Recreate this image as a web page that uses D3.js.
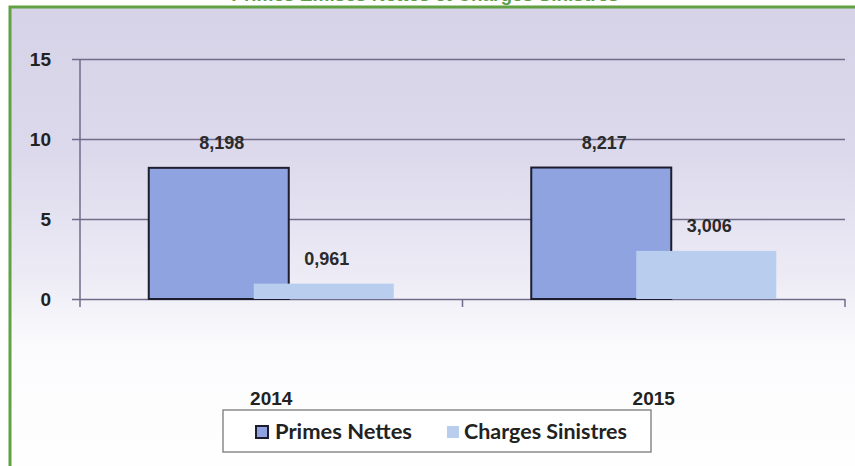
<!DOCTYPE html>
<html><head><meta charset="utf-8">
<script src="https://cdn.jsdelivr.net/npm/d3@7/dist/d3.min.js"></script>
<style>html,body{margin:0;padding:0;background:#fff;}svg{display:block;}</style>
</head><body>
<script>
const categories = ["2014", "2015"];
const seriesNames = ["Primes Nettes", "Charges Sinistres"];
const primesNettes = [8.198, 8.217];
const chargesSinistres = [0.961, 3.006];
const valueLabels = [["8,198", "8,217"], ["0,961", "3,006"]];
const yTicks = [0, 5, 10, 15];
const titleText = "Primes Emises Nettes et Charges Sinistres";

const W = 855, H = 466;
const svg = d3.select("body").append("svg").attr("width", W).attr("height", H);
const defs = svg.append("defs");
const grad = defs.append("linearGradient").attr("id", "bg").attr("x1", 0).attr("y1", 0).attr("x2", 0).attr("y2", 1);
grad.append("stop").attr("offset", "0%").attr("stop-color", "#d6d3e8");
grad.append("stop").attr("offset", "30%").attr("stop-color", "#dcd9ec");
grad.append("stop").attr("offset", "55%").attr("stop-color", "#ecebf5");
grad.append("stop").attr("offset", "70%").attr("stop-color", "#fbfbfd");
grad.append("stop").attr("offset", "100%").attr("stop-color", "#ffffff");

// frame
svg.append("rect").attr("x", 10).attr("y", 7).attr("width", W + 20).attr("height", H + 20)
  .attr("fill", "url(#bg)").attr("stroke", "#62a044").attr("stroke-width", 3);

// title (mostly cropped off the top, as in the reference)
svg.append("text").attr("x", 425).attr("y", 1).attr("text-anchor", "middle")
  .attr("font-family", "Liberation Sans, Arial, sans-serif").attr("font-weight", "bold")
  .attr("font-size", 19).attr("fill", "#5f9e48").text(titleText);

const x0 = 80, x1 = 845;
const y = d3.scaleLinear().domain([0, 15]).range([299, 59]);
const x = d3.scaleBand().domain(categories).range([x0, x1]).paddingInner(0).paddingOuter(0);
const xs = d3.scalePoint().domain(seriesNames).range([-52.5, 52.5]);
const barW = 140;
const gridColor = "#6f6b88";

// gridlines + y ticks
const yAxis = d3.axisLeft(y).tickValues(yTicks).tickSize(8).tickFormat(d3.format("d"));
const gy = svg.append("g").attr("transform", `translate(${x0},0)`).call(yAxis);
gy.select(".domain").remove();
gy.selectAll(".tick line").attr("stroke", gridColor).attr("stroke-width", 1.5);
gy.selectAll(".tick").append("line").attr("x1", 0).attr("x2", x1 - x0)
  .attr("stroke", gridColor).attr("stroke-width", 1.5);
gy.selectAll(".tick text").attr("x", -29).attr("dy", "0.36em")
  .attr("font-family", "Liberation Sans, Arial, sans-serif").attr("font-weight", "bold")
  .attr("font-size", 19).attr("fill", "#222");

// y axis line
svg.append("line").attr("x1", x0).attr("x2", x0).attr("y1", y(15)).attr("y2", y(0) + 8)
  .attr("stroke", gridColor).attr("stroke-width", 1.5);

// x axis ticks at band boundaries
const boundaries = categories.map(c => x(c)).concat([x1]);
svg.selectAll("line.xt").data(boundaries.slice(1)).enter().append("line")
  .attr("x1", d => d).attr("x2", d => d).attr("y1", y(0)).attr("y2", y(0) + 8)
  .attr("stroke", gridColor).attr("stroke-width", 1.5);

const seriesData = [primesNettes, chargesSinistres];
const fills = ["#8ea3df", "#b9cdef"];
const strokes = ["#1d1d2e", "none"];

seriesData.forEach((vals, si) => {
  const s = seriesNames[si];
  svg.selectAll(null).data(vals).enter().append("rect")
    .attr("x", (d, i) => x(categories[i]) + x.bandwidth() / 2 + xs(s) - barW / 2)
    .attr("y", d => y(d)).attr("width", barW).attr("height", d => y(0) - y(d))
    .attr("fill", fills[si]).attr("stroke", strokes[si]).attr("stroke-width", 2);
});
seriesData.forEach((vals, si) => {
  const s = seriesNames[si];
  svg.selectAll(null).data(vals).enter().append("text")
    .attr("x", (d, i) => x(categories[i]) + x.bandwidth() / 2 + xs(s) + 3)
    .attr("y", d => y(d) - 19).attr("text-anchor", "middle")
    .attr("font-family", "Liberation Sans, Arial, sans-serif").attr("font-weight", "bold")
    .attr("font-size", 18).attr("fill", "#2a2a2a")
    .text((d, i) => valueLabels[si][i]);
});

// category labels
svg.selectAll("text.cat").data(categories).enter().append("text")
  .attr("x", d => x(d) + x.bandwidth() / 2).attr("y", 405).attr("text-anchor", "middle")
  .attr("font-family", "Liberation Sans, Arial, sans-serif").attr("font-weight", "bold")
  .attr("font-size", 19).attr("fill", "#222").text(d => d);

// legend
const lg = svg.append("g");
lg.append("rect").attr("x", 223).attr("y", 410).attr("width", 428).attr("height", 42)
  .attr("fill", "#fff").attr("stroke", "#8a8a8a").attr("stroke-width", 1.5);
const legX = [256, 447];
const legTextX = [275, 464];
const legW = [137, 163];
seriesNames.forEach((s, i) => {
  lg.append("rect").attr("x", legX[i]).attr("y", 426).attr("width", 12).attr("height", 12)
    .attr("fill", fills[i]).attr("stroke", strokes[i]).attr("stroke-width", 2);
  lg.append("text").attr("x", legTextX[i]).attr("y", 439)
    .attr("font-family", "Lato, 'Open Sans', sans-serif").attr("font-weight", "bold")
    .attr("font-size", 21).attr("fill", "#222")
    .attr("textLength", legW[i]).attr("lengthAdjust", "spacingAndGlyphs").text(s);
});
</script>
</body></html>
